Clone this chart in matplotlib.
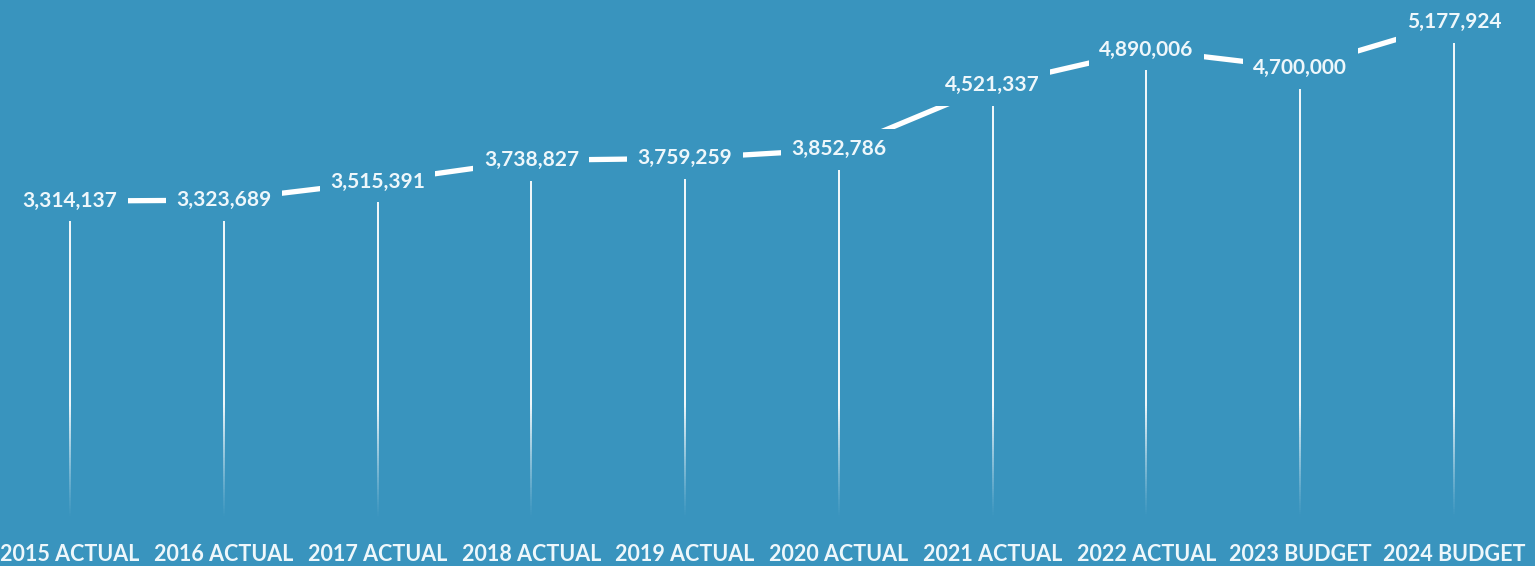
import matplotlib
matplotlib.use("Agg")
import matplotlib.pyplot as plt
import numpy as np
from matplotlib.collections import LineCollection

categories = ["2015 ACTUAL", "2016 ACTUAL", "2017 ACTUAL", "2018 ACTUAL", "2019 ACTUAL",
              "2020 ACTUAL", "2021 ACTUAL", "2022 ACTUAL", "2023 BUDGET", "2024 BUDGET"]
values = [3314137, 3323689, 3515391, 3738827, 3759259, 3852786, 4521337, 4890006, 4700000, 5177924]

BG = "#3994be"
FG = "#eef7fb"
FONT = ["Lato", "DejaVu Sans"]

fig = plt.figure(figsize=(15.35, 5.66), dpi=100, facecolor=BG)
ax = fig.add_axes([0, 0.083, 1, 0.917], facecolor=BG)

x = np.arange(len(categories))
ymax = 5.41e6

# drop lines with fade toward the baseline
for xi, v in zip(x, values):
    ys = np.linspace(0, v, 200)
    pts = np.array([[xi, y] for y in ys])
    segs = np.stack([pts[:-1], pts[1:]], axis=1)
    frac = ys[:-1] / (0.22 * ymax)
    alphas = np.clip(frac, 0, 1) ** 1.2 * 0.95
    cols = [(1, 1, 1, a) for a in alphas]
    lc = LineCollection(segs, colors=cols, linewidths=1.4, zorder=1)
    ax.add_collection(lc)

ax.plot(x, values, color="white", lw=3.8, zorder=2, solid_capstyle="butt")

for xi, v in zip(x, values):
    ax.text(xi, v, f"{v:,}", ha="center", va="center", color=FG, fontsize=15,
            fontweight="bold", family=FONT, zorder=3,
            bbox=dict(boxstyle="square,pad=0.5", fc=BG, ec="none"))

ax.set_xlim(-70 / 153.8, 9 + 81 / 153.8)
ax.set_ylim(0, ymax)
ax.set_xticks(x)
ax.set_xticklabels(categories, color=FG, fontsize=15.5, fontweight="bold", family=FONT)
ax.tick_params(axis="x", length=0, pad=18)
ax.set_yticks([])
for s in ax.spines.values():
    s.set_visible(False)

fig.savefig("out.png", dpi=100, facecolor=BG)
